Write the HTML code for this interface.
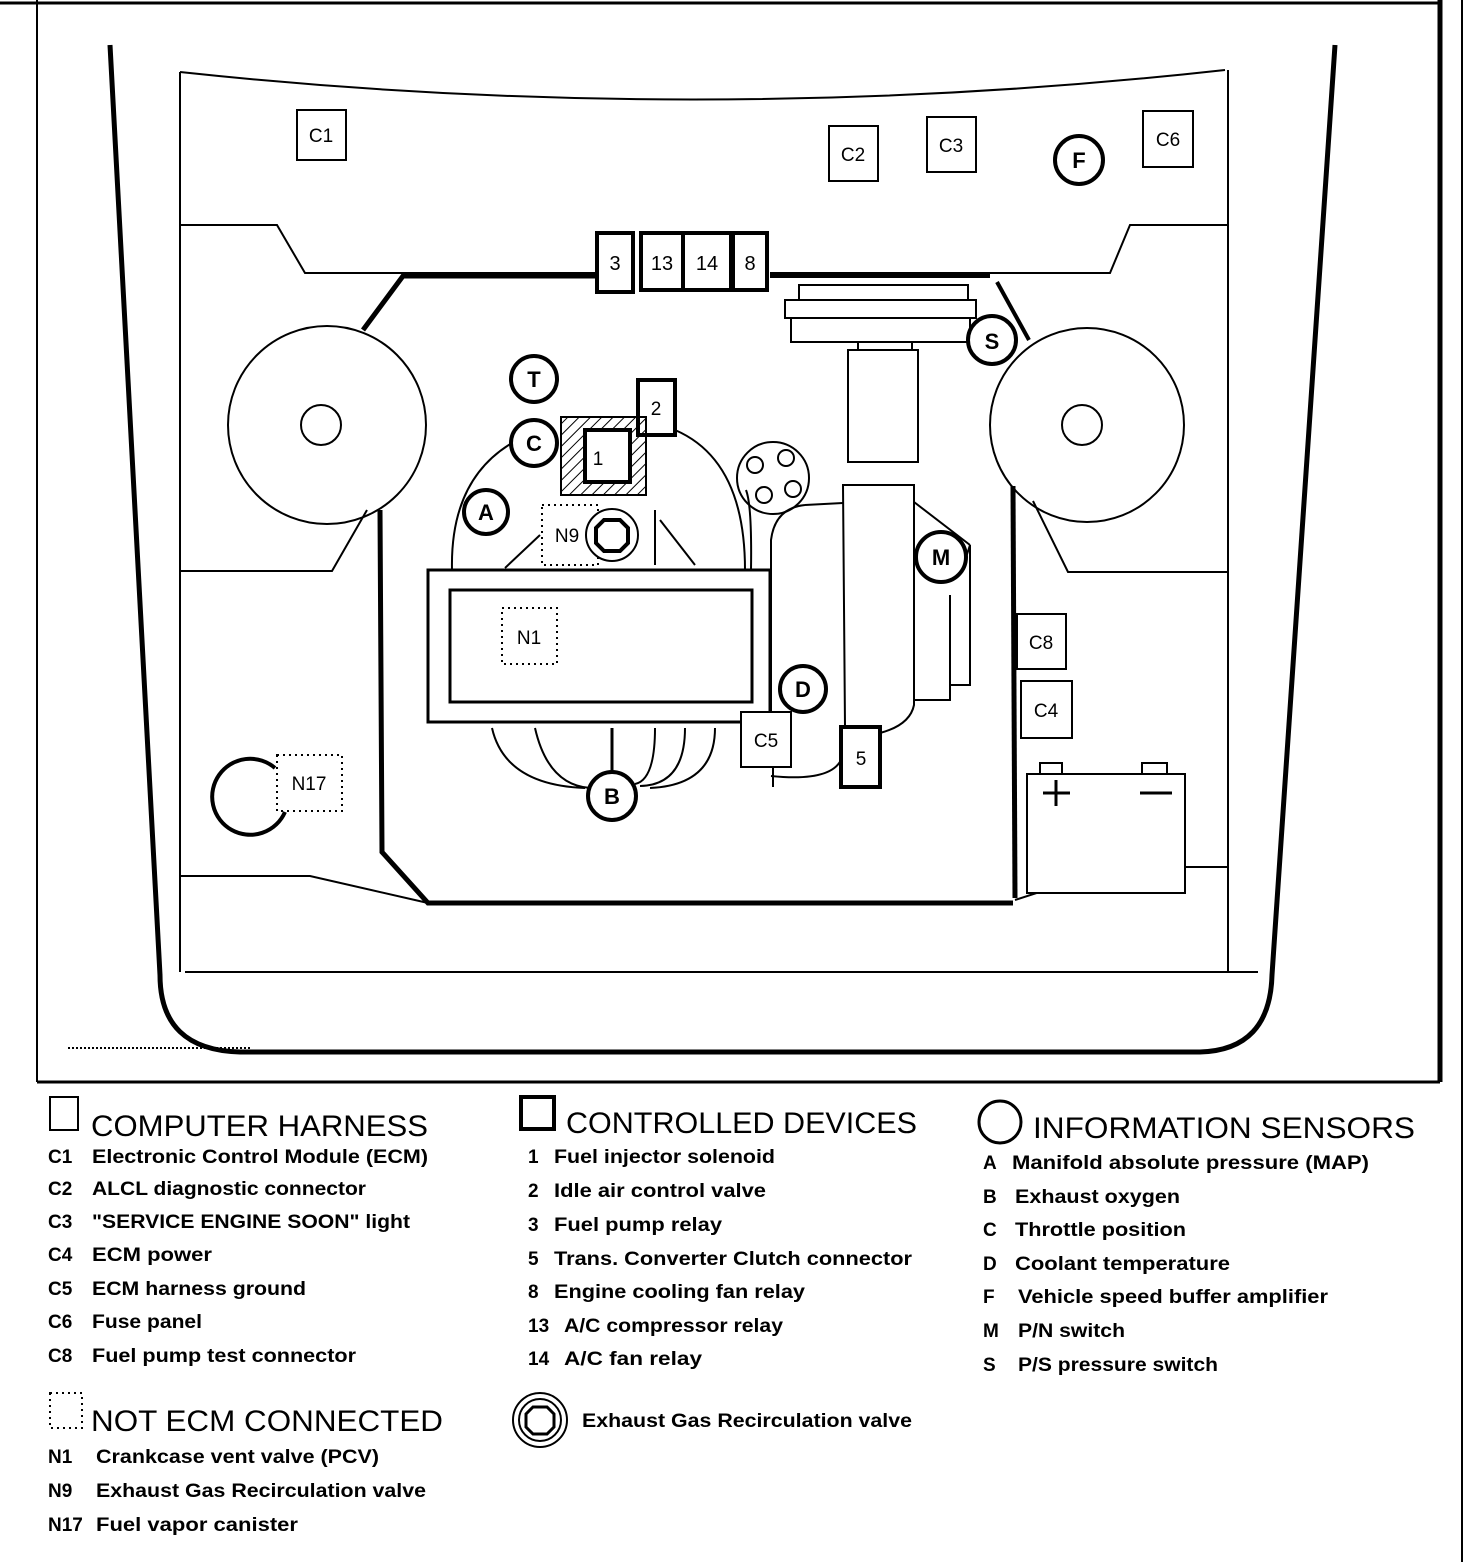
<!DOCTYPE html>
<html><head><meta charset="utf-8"><style>
html,body{margin:0;padding:0;background:#fff}
svg{display:block}
text{font-family:"Liberation Sans",sans-serif;fill:#000}
.h{font-size:30px}
.l{font-size:19px;font-weight:bold}
</style></head><body>
<svg width="1472" height="1562" viewBox="0 0 1472 1562" xmlns="http://www.w3.org/2000/svg">
<defs>
<pattern id="hat" width="8" height="8" patternUnits="userSpaceOnUse" patternTransform="rotate(45)">
<line x1="0" y1="0" x2="0" y2="8" stroke="#000" stroke-width="2"/>
</pattern>
</defs>
<g fill="none" stroke="#000">
<line x1="0" y1="3" x2="1440" y2="3" stroke-width="3"/>
<line x1="37" y1="0" x2="37" y2="1082" stroke-width="2"/>
<line x1="37" y1="1082" x2="1440" y2="1082" stroke-width="3"/>
<line x1="1440" y1="0" x2="1440" y2="1082" stroke-width="5"/>
<line x1="1462" y1="0" x2="1462" y2="1562" stroke-width="2"/>
<path d="M110,45 L160,975 Q160,1050 240,1052 L1200,1052 Q1270,1050 1272,975 L1335,45" stroke-width="5"/>
<line x1="185" y1="972" x2="1258" y2="972" stroke-width="2"/>
<line x1="68" y1="1048" x2="250" y2="1048" stroke-width="2" stroke-dasharray="2,2"/>
<path d="M180,72 Q702,128 1225,70" stroke-width="2"/>
<line x1="180" y1="72" x2="180" y2="972" stroke-width="2"/>
<line x1="1228" y1="70" x2="1228" y2="972" stroke-width="2"/>
<path d="M180,225 L277,225 L305,273 L595,273" stroke-width="2"/>
<path d="M1228,225 L1130,225 L1110,273 L770,273" stroke-width="2"/>
<path d="M363,330 L403,276 L595,276" stroke-width="5"/>
<line x1="770" y1="276" x2="990" y2="276" stroke-width="4"/>
<circle cx="327" cy="425" r="99" stroke-width="2"/>
<circle cx="321" cy="425" r="20" stroke-width="2"/>
<circle cx="1087" cy="425" r="97" stroke-width="2"/>
<circle cx="1082" cy="425" r="20" stroke-width="2"/>
<path d="M367,510 L332,571 L180,571" stroke-width="2"/>
<path d="M1033,501 L1068,572 L1228,572" stroke-width="2"/>
<path d="M380,510 L382,852 L428,903 L1013,903" stroke-width="5"/>
<path d="M180,876 L310,876 L428,903" stroke-width="2"/>
<path d="M1013,486 L1015,898" stroke-width="5"/>
<path d="M1015,900 L1117,867 L1228,867" stroke-width="2"/>
<line x1="997" y1="282" x2="1029" y2="340" stroke-width="4"/>
<path d="M275,768 A38,38 0 1 0 285,812" stroke-width="4"/>
<rect x="277" y="755" width="65" height="56" stroke-width="2" stroke-dasharray="2,4"/>
<path d="M452,570 Q450,480 512,443" stroke-width="2"/>
<path d="M675,430 Q745,460 745,570" stroke-width="2"/>
<line x1="505" y1="568" x2="540" y2="535" stroke-width="2"/>
<line x1="655" y1="510" x2="655" y2="565" stroke-width="2"/>
<line x1="660" y1="520" x2="695" y2="565" stroke-width="2"/>
<rect x="428" y="570" width="342" height="152" stroke-width="3"/>
<rect x="450" y="590" width="302" height="112" stroke-width="3"/>
<rect x="502" y="608" width="55" height="56" stroke-width="2" stroke-dasharray="2,4"/>
<path d="M492,728 Q505,785 585,788" stroke-width="2"/>
<path d="M535,728 Q548,785 590,788" stroke-width="2"/>
<line x1="612" y1="728" x2="612" y2="772" stroke-width="3"/>
<path d="M655,728 Q655,780 635,784" stroke-width="2"/>
<path d="M685,728 Q685,785 640,786" stroke-width="2"/>
<path d="M715,728 Q715,785 650,788" stroke-width="2"/>
<circle cx="773" cy="478" r="36" stroke-width="2"/>
<circle cx="755" cy="465" r="8" stroke-width="2"/>
<circle cx="786" cy="458" r="8" stroke-width="2"/>
<circle cx="764" cy="495" r="8" stroke-width="2"/>
<circle cx="793" cy="489" r="8" stroke-width="2"/>
<path d="M746,490 Q752,505 751,570" stroke-width="2"/>
<path d="M805,505 L843,503" stroke-width="2"/>
<path d="M771,712 L771,540 Q775,508 805,505" stroke-width="2"/>
<path d="M771,776 Q830,782 841,760" stroke-width="2"/>
<line x1="773" y1="767" x2="773" y2="787" stroke-width="2"/>
<rect x="799" y="285" width="169" height="15" stroke-width="2"/>
<rect x="785" y="300" width="191" height="18" stroke-width="2"/>
<rect x="791" y="318" width="179" height="24" stroke-width="2"/>
<rect x="848" y="350" width="70" height="112" stroke-width="2"/>
<line x1="858" y1="342" x2="858" y2="350" stroke-width="2"/>
<line x1="912" y1="342" x2="912" y2="350" stroke-width="2"/>
<path d="M845,727 L843,485 L914,485 L914,705 Q910,725 880,733" stroke-width="2"/>
<line x1="914" y1="502" x2="970" y2="545" stroke-width="2"/>
<path d="M914,700 L950,700 L950,595" stroke-width="2"/>
<path d="M962,570 L970,545 L970,685 L950,685" stroke-width="2"/>
<rect x="1027" y="774" width="158" height="119" stroke-width="2" fill="#fff"/>
<rect x="1040" y="763" width="22" height="11" stroke-width="2"/>
<rect x="1142" y="763" width="25" height="11" stroke-width="2"/>
<line x1="1043" y1="793" x2="1070" y2="793" stroke-width="3"/>
<line x1="1056" y1="780" x2="1056" y2="806" stroke-width="3"/>
<line x1="1140" y1="793" x2="1172" y2="793" stroke-width="3"/>
<g stroke-width="2" fill="#fff">
<rect x="297" y="110" width="49" height="50"/>
<rect x="829" y="126" width="49" height="55"/>
<rect x="927" y="117" width="49" height="55"/>
<rect x="1143" y="111" width="50" height="56"/>
<rect x="1017" y="614" width="49" height="55"/>
<rect x="1021" y="681" width="51" height="57"/>
<rect x="741" y="712" width="50" height="55"/>
</g>
<g stroke-width="4" fill="#fff">
<rect x="597" y="233" width="36" height="59"/>
<rect x="641" y="233" width="42" height="57"/>
<rect x="683" y="233" width="48" height="57"/>
<rect x="733" y="233" width="34" height="57"/>
<rect x="638" y="380" width="37" height="55"/>
<rect x="841" y="727" width="39" height="60"/>
</g>
<rect x="561" y="417" width="85" height="78" stroke-width="2" fill="url(#hat)"/>
<rect x="585" y="430" width="45" height="52" stroke-width="4" fill="#fff"/>
<rect x="542" y="505" width="56" height="60" stroke-width="2" stroke-dasharray="2,4"/>
<circle cx="612" cy="535" r="26" stroke-width="2" fill="#fff"/>
<polygon points="604,520 620,520 628,528 628,543 620,551 604,551 596,543 596,528" stroke-width="4"/>
<g stroke-width="4" fill="#fff">
<circle cx="534" cy="379" r="23"/>
<circle cx="534" cy="443" r="23"/>
<circle cx="486" cy="512" r="22"/>
<circle cx="612" cy="796" r="24"/>
<circle cx="803" cy="689" r="23"/>
<circle cx="941" cy="557" r="25"/>
<circle cx="992" cy="340" r="24"/>
<circle cx="1079" cy="160" r="24"/>
</g>
</g>
<g font-size="19" text-anchor="middle">
<text x="321" y="142">C1</text><text x="853" y="161">C2</text><text x="951" y="152">C3</text><text x="1168" y="146">C6</text>
<text x="1041" y="649">C8</text><text x="1046" y="717">C4</text><text x="766" y="747">C5</text>
<text x="615" y="270" font-size="20">3</text><text x="662" y="270" font-size="20">13</text><text x="707" y="270" font-size="20">14</text><text x="750" y="270" font-size="20">8</text>
<text x="656" y="415">2</text><text x="598" y="465">1</text><text x="861" y="765">5</text>
<text x="567" y="542">N9</text><text x="529" y="644">N1</text><text x="309" y="790">N17</text>
</g>
<g font-size="22" font-weight="bold" text-anchor="middle">
<text x="534" y="387">T</text><text x="534" y="451">C</text><text x="486" y="520">A</text><text x="612" y="804">B</text>
<text x="803" y="697">D</text><text x="941" y="565">M</text><text x="992" y="349">S</text><text x="1079" y="168">F</text>
</g>
<g fill="none" stroke="#000" stroke-width="2">
<rect x="50" y="1097" width="28" height="33"/>
<rect x="521" y="1097" width="33" height="32" stroke-width="4"/>
<ellipse cx="1000" cy="1122" rx="21" ry="21" stroke-width="3"/>
<rect x="50" y="1393" width="32" height="35" stroke-dasharray="2,4"/>
<circle cx="540" cy="1420" r="27"/>
<circle cx="540" cy="1420" r="21"/>
<polygon points="533,1407 547,1407 554,1414 554,1427 547,1434 533,1434 526,1427 526,1414" stroke-width="3"/>
</g>
<text class="h" x="91" y="1136" textLength="337" lengthAdjust="spacingAndGlyphs">COMPUTER HARNESS</text>
<text class="h" x="566" y="1133" textLength="351" lengthAdjust="spacingAndGlyphs">CONTROLLED DEVICES</text>
<text class="h" x="1033" y="1138" textLength="382" lengthAdjust="spacingAndGlyphs">INFORMATION SENSORS</text>
<text class="h" x="91" y="1431" textLength="352" lengthAdjust="spacingAndGlyphs">NOT ECM CONNECTED</text>
<g class="l">
<text x="48" y="1163">C1</text><text x="92" y="1163" textLength="336" lengthAdjust="spacingAndGlyphs">Electronic Control Module (ECM)</text>
<text x="48" y="1195">C2</text><text x="92" y="1195" textLength="274" lengthAdjust="spacingAndGlyphs">ALCL diagnostic connector</text>
<text x="48" y="1228">C3</text><text x="92" y="1228" textLength="318" lengthAdjust="spacingAndGlyphs">"SERVICE ENGINE SOON" light</text>
<text x="48" y="1261">C4</text><text x="92" y="1261" textLength="120" lengthAdjust="spacingAndGlyphs">ECM power</text>
<text x="48" y="1295">C5</text><text x="92" y="1295" textLength="214" lengthAdjust="spacingAndGlyphs">ECM harness ground</text>
<text x="48" y="1328">C6</text><text x="92" y="1328" textLength="110" lengthAdjust="spacingAndGlyphs">Fuse panel</text>
<text x="48" y="1362">C8</text><text x="92" y="1362" textLength="264" lengthAdjust="spacingAndGlyphs">Fuel pump test connector</text>
<text x="48" y="1463">N1</text><text x="96" y="1463" textLength="283" lengthAdjust="spacingAndGlyphs">Crankcase vent valve (PCV)</text>
<text x="48" y="1497">N9</text><text x="96" y="1497" textLength="330" lengthAdjust="spacingAndGlyphs">Exhaust Gas Recirculation valve</text>
<text x="48" y="1531">N17</text><text x="96" y="1531" textLength="202" lengthAdjust="spacingAndGlyphs">Fuel vapor canister</text>
<text x="528" y="1163">1</text><text x="554" y="1163" textLength="221" lengthAdjust="spacingAndGlyphs">Fuel injector solenoid</text>
<text x="528" y="1197">2</text><text x="554" y="1197" textLength="212" lengthAdjust="spacingAndGlyphs">Idle air control valve</text>
<text x="528" y="1231">3</text><text x="554" y="1231" textLength="168" lengthAdjust="spacingAndGlyphs">Fuel pump relay</text>
<text x="528" y="1265">5</text><text x="554" y="1265" textLength="358" lengthAdjust="spacingAndGlyphs">Trans. Converter Clutch  connector</text>
<text x="528" y="1298">8</text><text x="554" y="1298" textLength="251" lengthAdjust="spacingAndGlyphs">Engine cooling fan relay</text>
<text x="528" y="1332">13</text><text x="564" y="1332" textLength="219" lengthAdjust="spacingAndGlyphs">A/C compressor relay</text>
<text x="528" y="1365">14</text><text x="564" y="1365" textLength="138" lengthAdjust="spacingAndGlyphs">A/C  fan relay</text>
<text x="582" y="1427" textLength="330" lengthAdjust="spacingAndGlyphs">Exhaust Gas Recirculation valve</text>
<text x="983" y="1169">A</text><text x="1012" y="1169" textLength="357" lengthAdjust="spacingAndGlyphs">Manifold absolute pressure  (MAP)</text>
<text x="983" y="1203">B</text><text x="1015" y="1203" textLength="165" lengthAdjust="spacingAndGlyphs">Exhaust oxygen</text>
<text x="983" y="1236">C</text><text x="1015" y="1236" textLength="171" lengthAdjust="spacingAndGlyphs">Throttle position</text>
<text x="983" y="1270">D</text><text x="1015" y="1270" textLength="215" lengthAdjust="spacingAndGlyphs">Coolant temperature</text>
<text x="983" y="1303">F</text><text x="1018" y="1303" textLength="310" lengthAdjust="spacingAndGlyphs">Vehicle speed buffer amplifier</text>
<text x="983" y="1337">M</text><text x="1018" y="1337" textLength="107" lengthAdjust="spacingAndGlyphs">P/N switch</text>
<text x="983" y="1371">S</text><text x="1018" y="1371" textLength="200" lengthAdjust="spacingAndGlyphs">P/S pressure switch</text>
</g>
</svg>
</body></html>
